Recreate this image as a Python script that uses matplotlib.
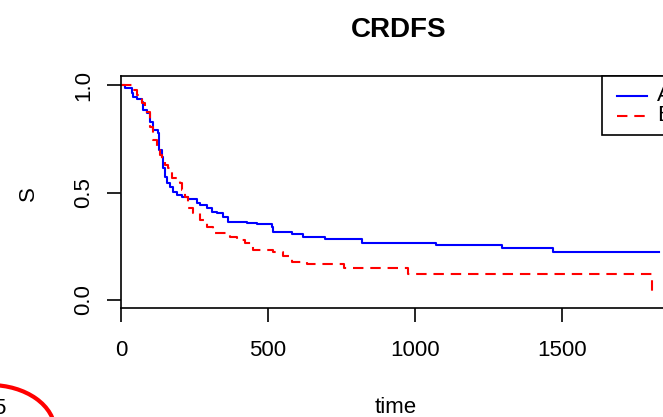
import matplotlib.pyplot as plt
from matplotlib.patches import Rectangle, Ellipse
from matplotlib.lines import Line2D

plt.rcParams['font.family'] = ['Liberation Sans', 'DejaVu Sans']

# survival curves (time, S)
time_a = [0, 14, 37, 41, 54, 71, 75, 88, 99, 109, 126, 129, 139, 143, 150, 156, 167, 177, 190, 207,
          228, 259, 269, 293, 310, 327, 347, 364, 429, 463, 514, 517, 582, 619, 694, 820, 1071, 1296, 1469, 1830]
surv_a = [1.0, 0.986, 0.963, 0.944, 0.935, 0.921, 0.884, 0.870, 0.828, 0.791, 0.777, 0.698, 0.665, 0.614, 0.572, 0.544, 0.526, 0.502, 0.488, 0.479,
          0.470, 0.451, 0.442, 0.428, 0.409, 0.405, 0.386, 0.363, 0.358, 0.353, 0.340, 0.316, 0.307, 0.293, 0.284, 0.265, 0.256, 0.242, 0.223, 0.223]

time_b = [0, 41, 54, 71, 82, 99, 109, 122, 133, 139, 150, 160, 173, 201, 207, 218, 228, 245, 269, 293,
          313, 371, 395, 422, 449, 517, 551, 582, 633, 759, 976, 1806]
surv_b = [1.0, 0.977, 0.953, 0.916, 0.874, 0.805, 0.744, 0.698, 0.674, 0.642, 0.628, 0.614, 0.567, 0.544, 0.512, 0.479, 0.428, 0.405, 0.372, 0.340,
          0.312, 0.293, 0.279, 0.265, 0.233, 0.223, 0.205, 0.177, 0.167, 0.149, 0.121, 0.037]

labels = ['A', 'B']
x_ticks = [0, 500, 1000, 1500]
y_ticks = [0.0, 0.5, 1.0]
y_tick_labels = ['0.0', '0.5', '1.0']

W, H = 663, 417
fig = plt.figure(figsize=(W / 100, H / 100), dpi=100)
# plot box runs past the right edge of the picture
ax = fig.add_axes([121 / W, 109 / H, 556 / W, 232 / H])

ax.step(time_a, surv_a, where='post', color='#0000FF', linewidth=1.5)
ax.step(time_b, surv_b, where='post', color='#FF0000', linewidth=1.5, dashes=(5, 3.3))

ax.set_xlim(0, 1891)
ax.set_ylim(-0.037, 1.042)
ax.set_xticks(x_ticks)
ax.set_xticklabels([str(t) for t in x_ticks])
ax.set_yticks(y_ticks)
ax.set_yticklabels(y_tick_labels, rotation=90, va='center')
ax.tick_params(axis='both', direction='out', length=10, width=1.2, labelsize=16, colors='black')
ax.tick_params(axis='x', pad=13)
ax.tick_params(axis='y', pad=9)
for s in ax.spines.values():
    s.set_linewidth(1.2)
    s.set_color('black')

# legend box (R style, anchored top right of the plot box)
ax.add_patch(Rectangle((0.865, 0.746), 0.3, 0.254, transform=ax.transAxes,
                       facecolor='white', edgecolor='black', linewidth=1.2, clip_on=False, zorder=5))
ax.add_line(Line2D([0.892, 0.946], [0.914, 0.914], transform=ax.transAxes, color='#0000FF',
                   linewidth=1.5, clip_on=False, zorder=6))
ax.add_line(Line2D([0.892, 0.946], [0.828, 0.828], transform=ax.transAxes, color='#FF0000',
                   linewidth=1.5, dashes=(5, 3.3), clip_on=False, zorder=6))
ax.text(0.964, 0.914, labels[0], transform=ax.transAxes, fontsize=16, va='center', zorder=6)
ax.text(0.964, 0.828, labels[1], transform=ax.transAxes, fontsize=16, va='center', zorder=6)

fig.text(399 / W, 1 - 30 / H, 'CRDFS', ha='center', va='center', fontsize=20, fontweight='bold')
fig.text(396 / W, 1 - 413 / H, 'time', ha='center', va='baseline', fontsize=16)
fig.text(28 / W, 1 - 194 / H, 'S', ha='center', va='center', rotation=90, fontsize=16)

# bits of a neighbouring figure cut into the lower left corner
fig.add_artist(Ellipse((-10 / W, (417 - 431) / H), 130 / W, 92 / H, transform=fig.transFigure,
                       fill=False, edgecolor='#FF0000', linewidth=3))
fig.text(5 / W, 3 / H, '5', ha='right', va='baseline', fontsize=16)

fig.savefig('out.png', dpi=100)
